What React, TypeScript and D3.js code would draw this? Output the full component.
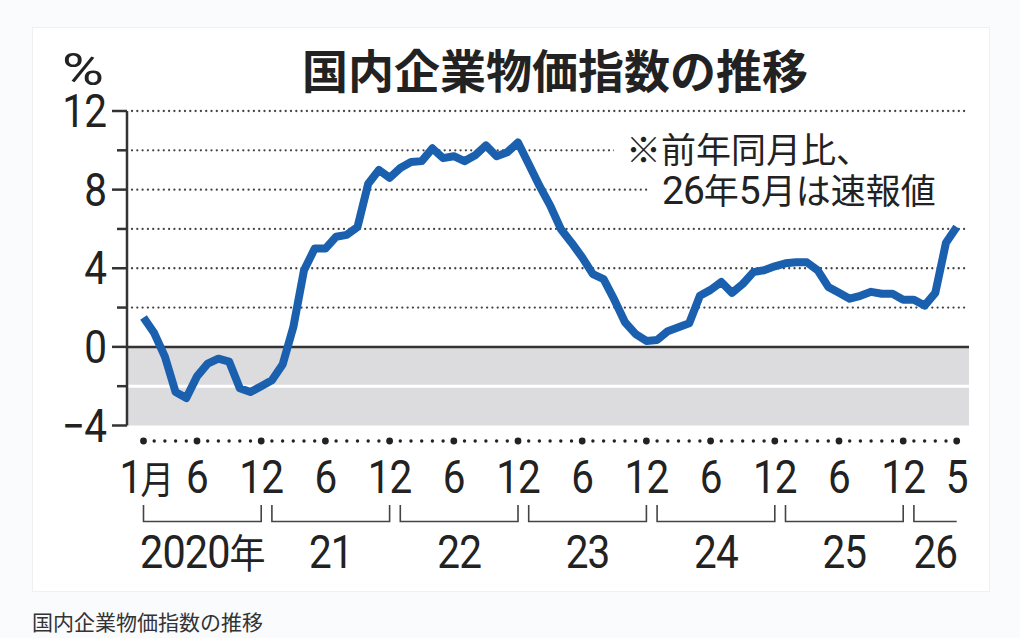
import React from "react";
import * as d3 from "d3";

// Year-on-year change of Japan's domestic corporate goods price index (%), monthly
const y2020 = [1.5, 0.7, -0.5, -2.3, -2.6, -1.5, -0.85, -0.6, -0.75, -2.1, -2.3, -2.0];
const y2021 = [-1.7, -0.9, 1.0, 3.9, 5.0, 5.0, 5.6, 5.7, 6.1, 8.3, 9.0, 8.6];
const y2022 = [9.1, 9.4, 9.45, 10.1, 9.6, 9.7, 9.45, 9.75, 10.25, 9.7, 9.9, 10.4];
const y2023 = [9.3, 8.2, 7.2, 6.0, 5.3, 4.55, 3.7, 3.45, 2.4, 1.25, 0.65, 0.3];
const y2024 = [0.35, 0.8, 1.0, 1.2, 2.6, 2.9, 3.3, 2.75, 3.2, 3.8, 3.9, 4.1];
const y2025 = [4.25, 4.3, 4.3, 3.9, 3.05, 2.75, 2.45, 2.6, 2.8, 2.7, 2.7, 2.4];
const y2026 = [2.4, 2.1, 2.75, 5.3, 6.1];

const yearLabels = ["2020", "21", "22", "23", "24", "25", "26"];
const yearSuffix = "年";
const yTickMajor = [12, 8, 4, 0, -4];
const yTickMinor = [10, 6, 2, -2];
const yTickLabels = ["12", "8", "4", "0", "−4"];
const gridValues = [12, 10, 8, 6, 4, 2];
const title = "国内企業物価指数の推移";
const note1 = "※前年同月比、";
const note2a = "26";
const note2b = "年";
const note2c = "5";
const note2d = "月は速報値";
const caption = "国内企業物価指数の推移";

const values = [...y2020, ...y2021, ...y2022, ...y2023, ...y2024, ...y2025, ...y2026];
const yearLengths = [y2020, y2021, y2022, y2023, y2024, y2025, y2026].map((a) => a.length);

const FONT = "'Noto Sans CJK JP', 'Noto Sans', sans-serif";
const NUM = "Roboto, 'Noto Sans', sans-serif";
const INK = "#222";
const BLUE = "#1b60ae";

export default function App() {
  const n = values.length;
  const x = d3.scaleLinear().domain([0, n - 1]).range([143.5, 956.7]);
  const y = d3.scaleLinear().domain([-4, 12]).range([425.5, 111]);
  const xLeft = 127;
  const xRight = 969;

  const line = d3
    .line<number>()
    .x((_, i) => x(i))
    .y((d) => y(d))
    .curve(d3.curveLinear);

  const months = values.map((_, i) => (i % 12) + 1);
  const isBig = (i: number) =>
    i === 0 || i === n - 1 || months[i] === 6 || months[i] === 12;
  const monthLabel = (i: number) => {
    if (i === n - 1) return String(months[i]);
    if (months[i] === 6 || months[i] === 12) return String(months[i]);
    return null;
  };

  let start = 0;
  const brackets = yearLengths.map((len, k) => {
    const s = start;
    const e = start + len - 1;
    start += len;
    return { s, e, full: len === 12, label: yearLabels[k] };
  });

  const numText = (
    tx: number,
    ty: number,
    txt: string,
    anchor: "start" | "middle" | "end",
    size: number,
    key: string
  ) => (
    <g key={key} transform={`translate(${tx},${ty}) scale(0.88,1)`}>
      <text textAnchor={anchor} fontFamily={NUM} fontSize={size} fill={INK} letterSpacing={-1}>
        {txt}
      </text>
    </g>
  );

  return (
    <div
      style={{
        position: "fixed",
        left: 0,
        top: 0,
        width: 1020,
        height: 638,
        background: "#fafbfd",
      }}
    >
      <svg width={1020} height={638} style={{ display: "block" }}>
        <rect x={0} y={0} width={1020} height={638} fill="#fafbfd" />
        <rect x={32.5} y={27.5} width={957} height={564} fill="#ffffff" stroke="#eef0f3" strokeWidth={1} />

        {/* title */}
        <text x={555} y={88} textAnchor="middle" fontFamily={FONT} fontWeight={700} fontSize={46} fill={INK}>
          {title}
        </text>

        {/* % unit */}
        <g transform="translate(104,85) scale(1.3,1)">
          <text textAnchor="end" fontFamily={NUM} fontSize={44} fill={INK}>
            %
          </text>
        </g>

        {/* negative band */}
        <rect x={xLeft} y={y(0)} width={xRight - xLeft} height={y(-4) - y(0)} fill="#dcdcdf" />
        <line x1={xLeft} x2={xRight} y1={y(-2)} y2={y(-2)} stroke="#ffffff" strokeWidth={3} />

        {/* dotted gridlines */}
        {gridValues.map((v) => (
          <line
            key={"g" + v}
            x1={xLeft + 5}
            x2={965}
            y1={y(v)}
            y2={y(v)}
            stroke="#444"
            strokeWidth={2.3}
            strokeLinecap="round"
            strokeDasharray="0 5.3"
          />
        ))}

        {/* note (masks gridlines) */}
        <rect x={614} y={128} width={360} height={40} fill="#ffffff" />
        <rect x={648} y={168} width={326} height={44} fill="#ffffff" />
        <text fontFamily={FONT} fontSize={35} fill={INK}>
          <tspan x={626} y={163}>{note1}</tspan>
          <tspan x={662} y={204} fontFamily={NUM} fontSize={39} letterSpacing={-1}>{note2a}</tspan>
          <tspan>{note2b}</tspan>
          <tspan fontFamily={NUM} fontSize={39}>{note2c}</tspan>
          <tspan>{note2d}</tspan>
        </text>

        {/* zero line */}
        <line x1={xLeft} x2={xRight} y1={y(0)} y2={y(0)} stroke="#333" strokeWidth={2.5} />

        {/* y axis */}
        <line x1={xLeft} x2={xLeft} y1={y(12)} y2={y(-4)} stroke="#333" strokeWidth={2.5} />
        {yTickMajor.map((v) => (
          <line key={"M" + v} x1={xLeft - 15} x2={xLeft} y1={y(v)} y2={y(v)} stroke="#333" strokeWidth={2.5} />
        ))}
        {yTickMinor.map((v) => (
          <line key={"m" + v} x1={xLeft - 10} x2={xLeft} y1={y(v)} y2={y(v)} stroke="#333" strokeWidth={2.5} />
        ))}
        {yTickMajor.map((v, k) => numText(106, y(v) + 16, yTickLabels[k], "end", 46, "yl" + v))}

        {/* series line */}
        <path
          d={line(values) || ""}
          fill="none"
          stroke={BLUE}
          strokeWidth={8}
          strokeLinejoin="round"
          strokeLinecap="butt"
        />

        {/* month dots */}
        {values.map((_, i) => (
          <circle key={"d" + i} cx={x(i)} cy={441} r={isBig(i) ? 3.4 : 1.7} fill="#222" />
        ))}

        {/* month labels */}
        <text x={x(0) - 24} y={493} fontFamily={NUM} fontSize={46} fill={INK} transform={`translate(${x(0) - 24},0) scale(0.88,1) translate(${-(x(0) - 24)},0)`}>
          1
          <tspan fontFamily={FONT} fontSize={38} dx={-2}>月</tspan>
        </text>
        {values.map((_, i) => {
          const lbl = monthLabel(i);
          if (!lbl) return null;
          return numText(x(i), 493, lbl, "middle", 46, "ml" + i);
        })}

        {/* year brackets */}
        {brackets.map((b) => {
          const x1 = x(b.s);
          const x2 = x(b.e);
          const path = b.full ? `M${x1},505V521.5H${x2}V505` : `M${x1},505V521.5H${x2}`;
          return <path key={"b" + b.s} d={path} fill="none" stroke="#444" strokeWidth={1.6} />;
        })}
        {brackets.map((b, k) => {
          const cx = (x(b.s) + x(b.e)) / 2;
          if (k === 0) {
            return (
              <g key={"yl" + b.s} transform={`translate(${cx},568) scale(0.9,1)`}>
                <text textAnchor="middle" fontFamily={NUM} fontSize={46} fill={INK} letterSpacing={-1}>
                  {b.label}
                  <tspan fontFamily={FONT} fontSize={40}>{yearSuffix}</tspan>
                </text>
              </g>
            );
          }
          return numText(cx, 568, b.label, "middle", 46, "yl" + b.s);
        })}

        {/* caption */}
        <text x={32} y={630} fontFamily={FONT} fontSize={21} fill="#333">
          {caption}
        </text>
      </svg>
    </div>
  );
}
